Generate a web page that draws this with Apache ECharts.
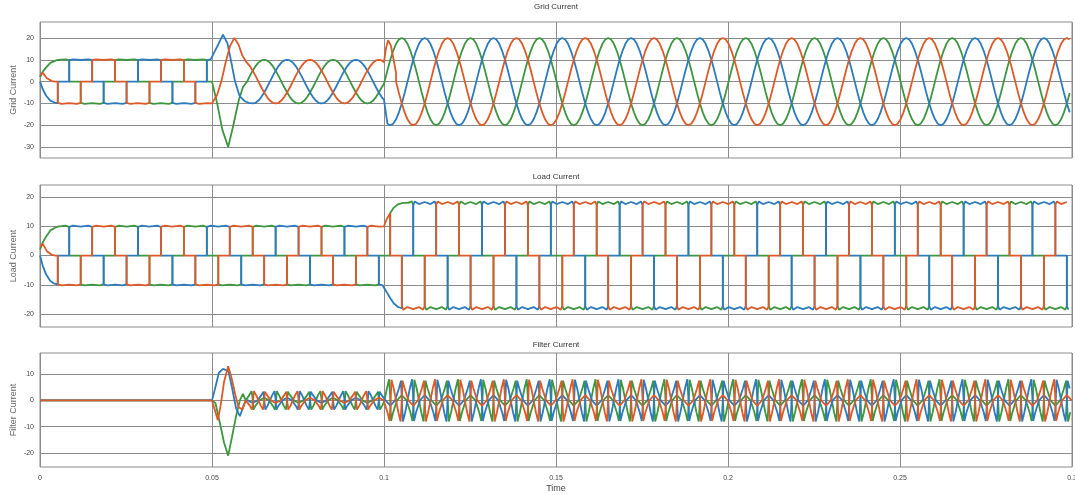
<!DOCTYPE html>
<html lang="en">
<head>
<meta charset="UTF-8">
<title>Grid / Load / Filter Current</title>
<script src="https://cdn.jsdelivr.net/npm/echarts@6.0.0/dist/echarts.min.js"></script>
<style>body{margin:0;background:#fff}</style>
</head>
<body>
<div id="main" style="width:1075px;height:495px;"></div>
<script>
// ---- data ----
const timeTicks = [0, 0.05, 0.1, 0.15, 0.2, 0.25, 0.3];
const panelTitles = ['Grid Current', 'Load Current', 'Filter Current'];
const yTicks = [[-30, -20, -10, 0, 10, 20], [-20, -10, 0, 10, 20], [-20, -10, 0, 10]];
const yRanges = [[-35, 27.3], [-24.4, 24.1], [-25.3, 18]];

const period = 0.02;              // 50 Hz
const peakA = 0.0985;             // a positive peak of phase A (s)
const phaseLag = [0, 1 / 3, 2 / 3]; // B, C lag A by 120 / 240 deg
const phaseColors = ['#dc5a28', '#3d9640', '#2b7bbd']; // A red, B green, C blue
const drawOrder = [1, 2, 0];

// one period of each waveform, [deg from positive peak, value]
const loadCycle10 = [[-60, 0], [-60, 9.8], [-40, 10.2], [0, 9.9], [40, 10.2], [60, 9.8], [60, 0],
  [120, 0], [120, -9.8], [140, -10.2], [180, -9.9], [220, -10.2], [240, -9.8], [240, 0]];
const loadCycle18 = [[-60, 0], [-60, 17.3], [-52, 18.5], [-30, 17.6], [0, 18.3], [30, 17.6], [52, 18.5], [60, 17.3], [60, 0],
  [120, 0], [120, -17.3], [128, -18.5], [150, -17.6], [180, -18.3], [210, -17.6], [232, -18.5], [240, -17.3], [240, 0]];
const gridCycle10 = [10, 9.7, 8.7, 7.1, 5, 2.6, 0, -2.6, -5, -7.1, -8.7, -9.7,
  -10, -9.7, -8.7, -7.1, -5, -2.6, 0, 2.6, 5, 7.1, 8.7, 9.7].map((v, i) => [i * 15, v]);
const gridCycle20 = [20, 19.3, 17.3, 14.1, 10, 5.2, 0, -5.2, -10, -14.1, -17.3, -19.3,
  -20, -19.3, -17.3, -14.1, -10, -5.2, 0, 5.2, 10, 14.1, 17.3, 19.3].map((v, i) => [i * 15, v]);
const filterCycle4 = [[0, 1], [25, 0], [45, -2], [56, -3.5], [61, -1], [66, 3.5], [78, 2], [90, 0], [102, -2], [114, -3.5],
  [119, -0.5], [124, 3.3], [135, 2], [155, 0], [180, -1], [205, 0], [225, 2], [236, 3.3], [241, -0.5], [246, -3.5],
  [258, -2], [270, 0], [282, 2], [294, 3.5], [299, 1], [304, -3.5], [315, -2], [335, 0]];
const filterCycle8 = [[0, 2], [25, 0], [45, -4.5], [56, -7.8], [61, -2], [66, 7.8], [78, 4.5], [90, 0], [102, -4.5], [114, -8],
  [119, -1], [124, 7.5], [135, 4.5], [155, 0], [180, -2], [205, 0], [225, 4.5], [236, 7.5], [241, -1], [246, -8],
  [258, -4.5], [270, 0], [282, 4.5], [294, 8], [299, 2], [304, -7.8], [315, -4.5], [335, 0]];

// transients, [t, value] per phase A, B, C
const loadStart = [
  [[0, 3], [0.0008, 4], [0.002, 1.5], [0.0035, 0.2], [0.0045, 0]],
  [[0, 2], [0.0008, 4.5], [0.0018, 6.5], [0.003, 8.6], [0.0045, 9.6]],
  [[0, 0], [0.0008, -3.5], [0.0018, -6.5], [0.003, -8.7], [0.0042, -9.6]]
];
const loadStep = [
  [[0.1, 10], [0.1008, 12.5], [0.1018, 14.5], [0.1018, 0], [0.1025, 0]],
  [[0.1, 0], [0.1018, 0], [0.1018, 14.5], [0.1028, 16.3], [0.104, 17.5], [0.1055, 18], [0.107, 18]],
  [[0.1, -10], [0.1008, -12.5], [0.1018, -14.5], [0.1028, -16.3], [0.104, -17.5], [0.1052, -18], [0.1052, 0], [0.106, 0]]
];
const gridHit = [
  [[0.05, -10], [0.0515, -6], [0.0527, 0], [0.054, 9], [0.0553, 16.5], [0.0565, 20], [0.0577, 17], [0.0588, 12], [0.06, 8.9]],
  [[0.05, 0], [0.0515, -10], [0.053, -22], [0.0547, -30], [0.0562, -20], [0.0577, -9], [0.059, -2.5], [0.0602, 0]],
  [[0.05, 10], [0.0515, 16], [0.0532, 21.5], [0.0545, 17.5], [0.0556, 9], [0.0567, 0], [0.058, -6.5], [0.0595, -9], [0.0607, -9.7]]
];
const gridStep = [
  [[0.1, 8.9], [0.1006, 15.5], [0.1012, 19], [0.102, 16.5], [0.1028, 10], [0.1035, 4]],
  [[0.1, -1]],
  [[0.1, -8.4], [0.1006, -15]]
];
const filterIdle = [[0, 0], [0.05, 0]];
const filterHit = [
  [[0.05, 0], [0.0509, -4], [0.0517, -7.5], [0.0525, -2], [0.0535, 7], [0.0547, 13], [0.0556, 9], [0.0568, 2], [0.0577, -2.5], [0.0588, -3.5], [0.0598, 0]],
  [[0.05, 0], [0.051, -1], [0.0522, -8], [0.0535, -16], [0.0547, -21], [0.0558, -14], [0.057, -6], [0.0581, 0], [0.059, 2.5], [0.0598, 0]],
  [[0.05, 0], [0.0508, 4], [0.052, 10.5], [0.0532, 12], [0.0548, 11], [0.0558, 5], [0.057, -3], [0.0581, -6], [0.0592, -2], [0.0598, 0]]
];

// ---- build series ----
function tile(cycle, p, from, to) {
  const pts = [];
  const t0 = peakA + phaseLag[p] * period;
  const k0 = Math.floor((from - t0) / period) - 1;
  const k1 = Math.ceil((to - t0) / period) + 1;
  for (let k = k0; k <= k1; k++) {
    cycle.forEach(([deg, v]) => {
      const t = t0 + (k + deg / 360) * period;
      if (t > from && t <= to) pts.push([t, v]);
    });
  }
  return pts;
}
const lastT = pts => pts[pts.length - 1][0];

function loadWave(p) {
  return [].concat(loadStart[p], tile(loadCycle10, p, lastT(loadStart[p]), 0.1),
    loadStep[p], tile(loadCycle18, p, lastT(loadStep[p]), 0.3));
}
function gridWave(p) {
  return [].concat(loadStart[p], tile(loadCycle10, p, lastT(loadStart[p]), 0.05),
    gridHit[p], tile(gridCycle10, p, lastT(gridHit[p]), 0.1),
    gridStep[p], tile(gridCycle20, p, lastT(gridStep[p]), 0.3));
}
function filterWave(p) {
  return [].concat(filterIdle, filterHit[p], tile(filterCycle4, p, lastT(filterHit[p]), 0.1),
    tile(filterCycle8, p, 0.1, 0.3));
}
const builders = [gridWave, loadWave, filterWave];

const gridTops = [22, 185, 353];
const gridHeights = [136, 142, 114];
const titleTops = [3, 173, 341];

const series = [];
builders.forEach((build, i) => {
  drawOrder.forEach(p => {
    series.push({
      type: 'line', xAxisIndex: i, yAxisIndex: i, data: build(p),
      showSymbol: false, symbol: 'none', silent: true,
      lineStyle: { width: 1.8, color: phaseColors[p] }
    });
  });
});

const myChart = echarts.init(document.getElementById('main'));
myChart.setOption({
  animation: false,
  title: panelTitles.map((t, i) => ({
    text: t, left: 556, top: titleTops[i], textAlign: 'center', padding: 0,
    textStyle: { fontSize: 8, fontWeight: 'normal', color: '#333', fontFamily: 'Liberation Sans' }
  })),
  grid: gridTops.map((top, i) => ({
    left: 40, right: 3, top: top, height: gridHeights[i],
    show: true, borderColor: '#8c8c8c', borderWidth: 1, containLabel: false, outerBoundsMode: 'none'
  })),
  xAxis: gridTops.map((_, i) => ({
    gridIndex: i, type: 'value', min: 0, max: 0.3, interval: 0.05,
    axisLine: { show: false }, axisTick: { show: false },
    axisLabel: {
      show: i === 2, fontSize: 7, color: '#444', margin: 8, fontFamily: 'Liberation Sans',
      formatter: v => String(Math.round(v * 100) / 100)
    },
    splitLine: { show: true, lineStyle: { color: '#8c8c8c', width: 1 } },
    name: i === 2 ? 'Time' : '', nameLocation: 'middle', nameGap: 17,
    nameTextStyle: { fontSize: 9, color: '#444', fontFamily: 'Liberation Sans' }
  })),
  yAxis: gridTops.map((_, i) => ({
    gridIndex: i, type: 'value', min: yRanges[i][0], max: yRanges[i][1],
    name: panelTitles[i], nameLocation: 'middle', nameGap: 22, nameMoveOverlap: false,
    nameTextStyle: { fontSize: 9, color: '#666', fontFamily: 'Liberation Sans' },
    axisLine: { show: false },
    axisTick: { show: false, customValues: yTicks[i] },
    axisLabel: { customValues: yTicks[i], fontSize: 7, color: '#444', margin: 6, fontFamily: 'Liberation Sans' },
    splitLine: { show: true, lineStyle: { color: '#8c8c8c', width: 1 } }
  })),
  series: series
});
</script>
</body>
</html>
